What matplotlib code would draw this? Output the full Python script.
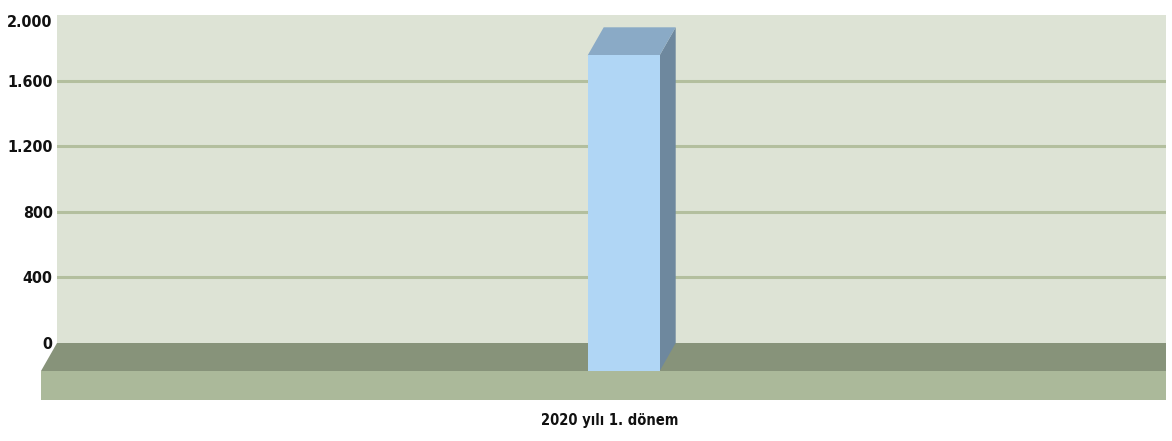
import matplotlib
matplotlib.use("Agg")
import matplotlib.pyplot as plt
from matplotlib.patches import Polygon

categories = ["2020 yılı 1. dönem"]
values = [1925]
yticks = [0, 400, 800, 1200, 1600, 2000]
ytick_labels = ["0", "400", "800", "1.200", "1.600", "2.000"]

W, H = 1172, 441
fig = plt.figure(figsize=(W / 100, H / 100), dpi=100)
# back wall spans px x 57..1166, y 15..343
ax = fig.add_axes([57 / W, 1 - 343 / H, 1109 / W, 328 / H])
ax.set_xlim(-0.511, 0.489)
ax.set_ylim(0, 2000)
ax.set_facecolor("#dde3d5")
for s in ax.spines.values():
    s.set_visible(False)

# pixel -> data helpers
px_x = 1.0 / 1109
px_y = 2000 / 328
ddx, ddy = -16 * px_x, -28 * px_y   # depth offset of the front faces

for t in yticks[1:-1]:
    ax.axhline(t, color="#b3bf9e", lw=2.2, zorder=1)

fnt = ["DejaVu Sans", "Liberation Sans"]
ax.set_yticks(yticks)
ax.set_yticklabels(ytick_labels, fontsize=11.5, fontweight="bold", family=fnt,
                   fontstretch="condensed", color="#111111")
ax.get_yticklabels()[-1].set_va("top")
ax.tick_params(axis="y", length=0, pad=3)
ax.set_xticks([])

x0, x1 = -0.511, 0.489
# floor top (dark) and front face
ax.add_patch(Polygon([(x0, 0), (x1, 0), (x1, ddy), (x0 + ddx, ddy)],
                     closed=True, fc="#87937a", ec="none", clip_on=False, zorder=2))
ax.add_patch(Polygon([(x0 + ddx, ddy), (x1, ddy), (x1, ddy - 29 * px_y), (x0 + ddx, ddy - 29 * px_y)],
                     closed=True, fc="#abb99a", ec="none", clip_on=False, zorder=2))

bw = 72 * px_x
for i, v in enumerate(values):
    l, r = i - bw / 2, i + bw / 2
    # right side
    ax.add_patch(Polygon([(r, ddy), (r - ddx, 0), (r - ddx, v), (r, v + ddy)],
                         closed=True, fc="#6e889e", ec="none", clip_on=False, zorder=3))
    # top
    ax.add_patch(Polygon([(l, v + ddy), (r, v + ddy), (r - ddx, v), (l - ddx, v)],
                         closed=True, fc="#8aaac6", ec="none", clip_on=False, zorder=3))
    # front
    ax.add_patch(Polygon([(l, ddy), (r, ddy), (r, v + ddy), (l, v + ddy)],
                         closed=True, fc="#b0d6f5", ec="none", clip_on=False, zorder=4))
    ax.text(i - 14 * px_x, -78 * px_y, categories[i], ha="center", va="center",
            fontsize=10.5, fontweight="bold", family=fnt, fontstretch="condensed",
            color="#111111", clip_on=False)

fig.savefig("out.png", dpi=100, facecolor="white")
